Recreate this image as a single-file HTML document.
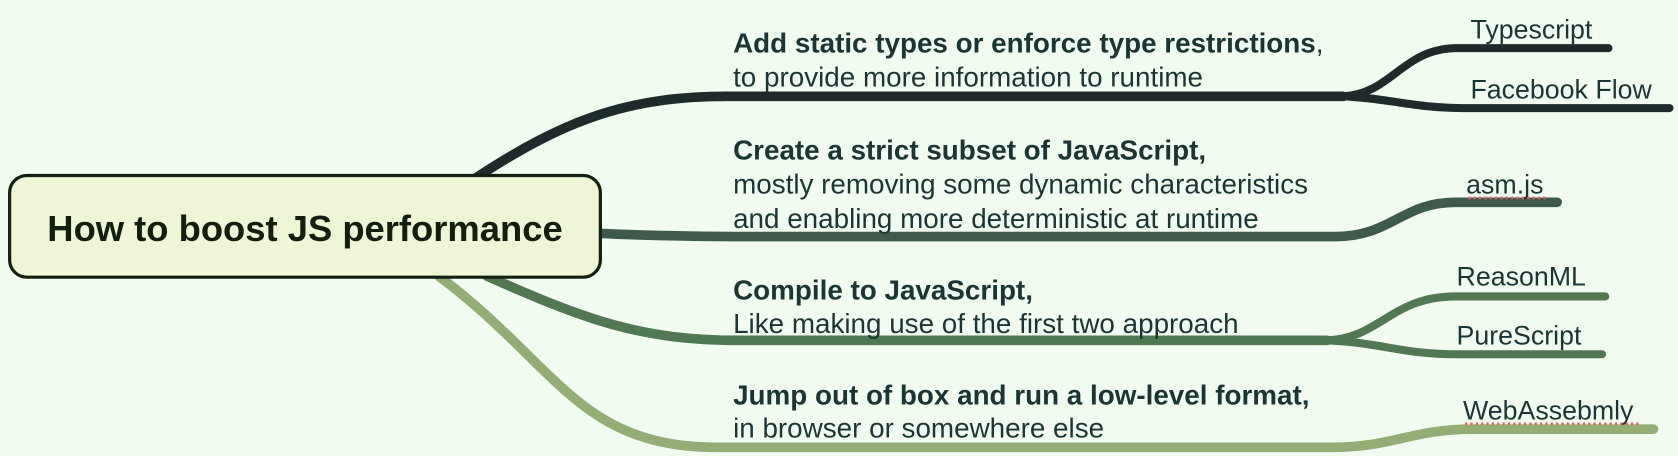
<!DOCTYPE html>
<html><head><meta charset="utf-8"><style>
html,body{margin:0;padding:0;background:#f1fbef;}
svg{display:block}
text{font-family:"Liberation Sans",sans-serif;fill:#1b3535;}
.b{font-weight:bold}
</style></head><body>
<svg width="1678" height="456" viewBox="0 0 1678 456" xmlns="http://www.w3.org/2000/svg">
<rect width="1678" height="456" fill="#f1fbef"/>
<g transform="scale(1.0702)">
<g fill="none" stroke-linecap="round">
<path d="M445,166 C530,110 590,90 680,90 L1255,90" stroke="#1f2b2b" stroke-width="9"/>
<path d="M1255,90 C1300,88 1310,46 1360,45 L1503,45" stroke="#1f2b2b" stroke-width="7.5"/>
<path d="M1255,90 C1300,92 1320,101 1370,101 L1560,101" stroke="#1f2b2b" stroke-width="7.5"/>
<path d="M410,258 C520,340 540,418 670,418 L1245,418 C1300,418 1320,401 1375,401 L1545,401" stroke="#93ad74" stroke-width="9"/>
<path d="M455,258 C550,300 600,318 690,318 L1240,318" stroke="#527853" stroke-width="9"/>
<path d="M1240,318 C1290,316 1300,277 1360,277 L1500,277" stroke="#527853" stroke-width="7.5"/>
<path d="M1240,318 C1290,320 1310,331 1360,331 L1497,331" stroke="#527853" stroke-width="7.5"/>
<path d="M560,218 C600,220 640,221 700,221 L1248,221 C1300,221 1310,189 1360,189 L1455,189" stroke="#3d5a4c" stroke-width="9"/>
</g>
<rect x="9" y="164" width="552" height="95" rx="16" fill="#eef6d6" stroke="#14200f" stroke-width="3"/>
<text x="285" y="225" class="b" font-size="34" text-anchor="middle" style="fill:#121e0e">How to boost JS performance</text>
<g font-size="26">
<text x="685" y="49"><tspan class="b">Add static types or enforce type restrictions</tspan>,</text>
<text x="685" y="81">to provide more information to runtime</text>
<text x="685" y="149" class="b">Create a strict subset of JavaScript,</text>
<text x="685" y="181">mostly removing some dynamic characteristics</text>
<text x="685" y="213">and enabling more deterministic at runtime</text>
<text x="685" y="280" class="b">Compile to JavaScript,</text>
<text x="685" y="311">Like making use of the first two approach</text>
<text x="685" y="378" class="b">Jump out of box and run a low-level format,</text>
<text x="685" y="409">in browser or somewhere else</text>
</g>
<g font-size="25">
<text x="1374" y="36">Typescript</text>
<text x="1374" y="92">Facebook Flow</text>
<text x="1370" y="181">asm.js</text>
<text x="1361" y="267">ReasonML</text>
<text x="1361" y="322">PureScript</text>
<text x="1367" y="392">WebAssebmly</text>
</g>
<g stroke="#e05a5a" stroke-width="2.5" stroke-dasharray="2,3">
<line x1="1372" y1="185" x2="1447" y2="185"/>
<line x1="1369" y1="396" x2="1531" y2="396"/>
</g>
</g>
</svg>
</body></html>
